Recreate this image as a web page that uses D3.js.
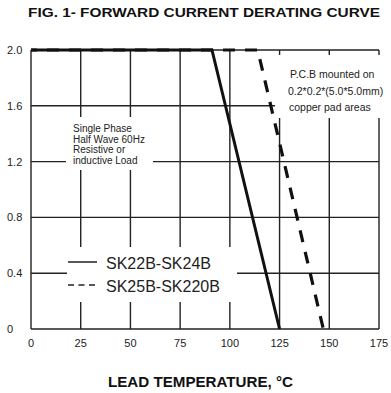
<!DOCTYPE html>
<html><head><meta charset="utf-8">
<script src="https://cdn.jsdelivr.net/npm/d3@7"></script>
<style>body{margin:0;background:#fff}svg{display:block;font-family:"Liberation Sans",Arial,sans-serif}</style>
</head><body><svg id="c" width="391" height="393"></svg>
<script>
const xTicks = [0, 25, 50, 75, 100, 125, 150, 175];
const yTicks = [0, 0.4, 0.8, 1.2, 1.6, 2.0];
const yTickLabels = ["0", "0.4", "0.8", "1.2", "1.6", "2.0"];
const seriesNames = ["SK22B-SK24B", "SK25B-SK220B"];
const sk22Temp = [0, 91, 125];
const sk22Current = [2.0, 2.0, 0];
const sk25Temp = [0, 114, 147];
const sk25Current = [2.0, 2.0, 0];
const title = "FIG. 1- FORWARD CURRENT DERATING CURVE";
const xTitle = "LEAD TEMPERATURE,\u00A0\u00B0C";
const note1 = ["Single Phase", "Half Wave 60Hz", "Resistive or", "inductive Load"];
const note2 = ["P.C.B mounted on", "0.2*0.2*(5.0*5.0mm)", "copper pad areas"];

const svg = d3.select("#c");
const x = d3.scaleLinear().domain([0, 175]).range([31, 379]);
const y = d3.scaleLinear().domain([0, 2]).range([329, 50]);
const ink = "#222";

svg.append("text").attr("x", 28).attr("y", 17).attr("font-size", 12.5).attr("font-weight", "bold")
  .attr("textLength", 352).attr("lengthAdjust", "spacingAndGlyphs").attr("fill", "#111").text(title);

// grid
const g = svg.append("g");
g.selectAll(".vx").data(xTicks).join("line")
  .attr("x1", d => x(d)).attr("x2", d => x(d)).attr("y1", y(0)).attr("y2", y(2))
  .attr("stroke", ink).attr("stroke-width", 1.4);
g.selectAll(".hy").data(yTicks).join("line")
  .attr("x1", x(0)).attr("x2", x(175)).attr("y1", d => y(d)).attr("y2", d => y(d))
  .attr("stroke", ink).attr("stroke-width", 1.4);

// tick labels
svg.selectAll(".xl").data(xTicks).join("text")
  .attr("x", d => x(d)).attr("y", 347).attr("text-anchor", "middle").attr("font-size", 11).attr("fill", ink).text(d => d);
svg.selectAll(".yl").data(yTicks).join("text")
  .attr("x", 7).attr("y", d => y(d) + 4).attr("font-size", 11).attr("fill", ink).text((d, i) => yTickLabels[i]);

svg.append("text").attr("x", 108).attr("y", 387).attr("font-size", 15)
  .attr("textLength", 185).attr("lengthAdjust", "spacingAndGlyphs")
  .attr("font-weight", "bold").attr("fill", "#111").text(xTitle);

// white boxes
svg.append("rect").attr("x", 66).attr("y", 117).attr("width", 87).attr("height", 53).attr("fill", "#fff");
svg.append("rect").attr("x", 275).attr("y", 55).attr("width", 112).attr("height", 63).attr("fill", "#fff");
svg.append("rect").attr("x", 67).attr("y", 247).attr("width", 170).attr("height", 55).attr("fill", "#fff");

const t1 = svg.append("text").attr("font-size", 10).attr("fill", ink);
note1.forEach((s, i) => t1.append("tspan").attr("x", 73).attr("y", 132 + i * 10.5).text(s));
const t2 = svg.append("text").attr("font-size", 10.5).attr("fill", ink);
const n2x = [290, 288, 289];
note2.forEach((s, i) => t2.append("tspan").attr("x", n2x[i]).attr("y", 78 + i * 16.5).text(s));

// curves
const line = d3.line().x(d => x(d[0])).y(d => y(d[1]));
svg.append("path").datum(sk25Temp.map((t, i) => [t, sk25Current[i]]))
  .attr("d", line).attr("fill", "none").attr("stroke", "#111").attr("stroke-width", 3.2)
  .attr("stroke-dasharray", "12 10").attr("stroke-dashoffset", 6);
svg.append("path").datum(sk22Temp.map((t, i) => [t, sk22Current[i]]))
  .attr("d", line).attr("fill", "none").attr("stroke", "#111").attr("stroke-width", 3);

// legend
const leg = svg.append("g");
seriesNames.forEach((n, i) => {
  const yy = 262 + i * 23;
  leg.append("line").attr("x1", 68).attr("x2", 97).attr("y1", yy).attr("y2", yy)
    .attr("stroke", ink).attr("stroke-width", 1.5).attr("stroke-dasharray", i ? "6 4.5" : null);
  leg.append("text").attr("x", 106).attr("y", yy + 6.5).attr("font-size", 16).attr("fill", ink).text(n);
});
</script></body></html>
